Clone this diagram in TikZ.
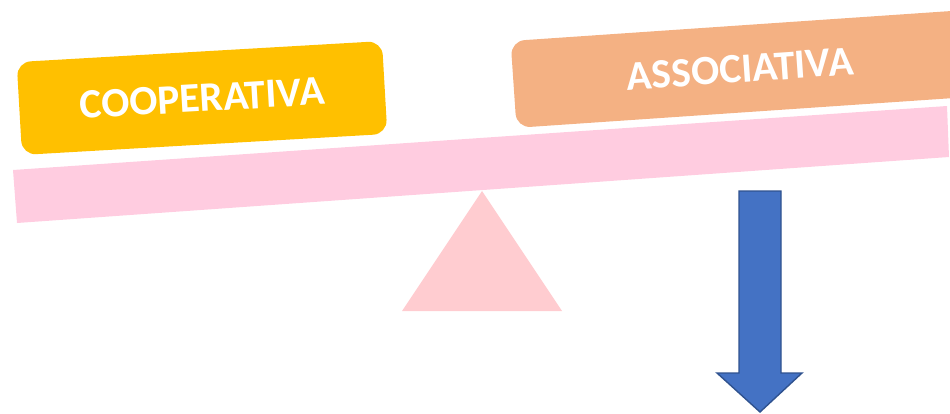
\documentclass[tikz,border=0pt]{standalone}
\usepackage{fontspec}
\setmainfont{Carlito}
\definecolor{boxyellow}{HTML}{FFC000}
\definecolor{boxorange}{HTML}{F4B183}
\definecolor{beampink}{HTML}{FFCCE0}
\definecolor{basepink}{HTML}{FFCCD0}
\definecolor{arrowblue}{HTML}{4472C4}
\definecolor{arrowedge}{HTML}{2F528F}
\tikzset{
  label box/.style={rounded corners=8pt,inner sep=0pt,text=white,
    font=\fontsize{23.7}{28}\selectfont\bfseries},
}
\begin{document}
\begin{tikzpicture}[x=0.02cm,y=-0.02cm]
	\clip (0,0) rectangle (950,413);
	\useasboundingbox (0,0) rectangle (950,413);
	% labels on the beam
	\node[label box,fill=boxyellow,minimum width=7.32cm,minimum height=1.86cm,rotate=3.3] (cooperativa) at (202,98) {COOPERATIVA};
	\node[label box,fill=boxorange,minimum width=9.08cm,minimum height=1.74cm,rotate=3.9] (associativa) at (740,69) {ASSOCIATIVA};
	% beam and fulcrum
	\fill[beampink] (13,170) -- (947,106) -- (949,157) -- (17,223) -- cycle;
	\fill[basepink] (482,191) -- (562,311) -- (402,311) -- cycle;
	% arrow
	\draw[fill=arrowblue,draw=arrowedge,line width=0.8pt] (739,191) -- (781,191) -- (781,373) -- (802,373) -- (760,412) -- (717,373) -- (739,373) -- cycle;
\end{tikzpicture}
\end{document}
